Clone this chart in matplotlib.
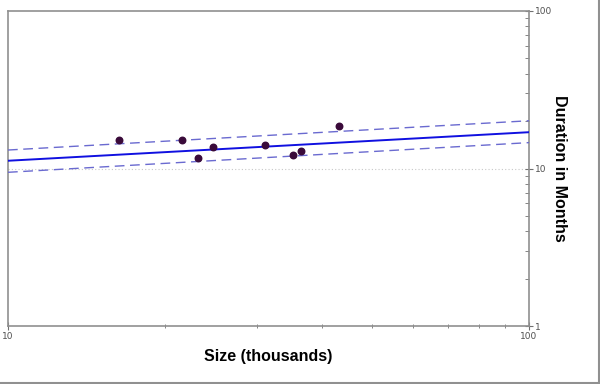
import matplotlib.pyplot as plt
from matplotlib.ticker import LogLocator, FixedLocator, NullFormatter
from matplotlib.lines import Line2D

# data
size_k = [16.3, 21.6, 23.2, 24.7, 31.1, 35.2, 36.5, 43.2]
duration = [15.2, 15.2, 11.7, 13.6, 14.0, 12.2, 13.0, 18.7]

fit_x = [10, 100]
fit_y = [11.2, 17.0]
upper_y = [13.1, 20.1]
lower_y = [9.46, 14.6]

x_ticks = [10, 100]
y_ticks = [1, 10, 100]


def main():
    fig = plt.figure(figsize=(6, 3.84), dpi=100)
    ax = fig.add_axes([8 / 600, 1 - 326 / 384, 521 / 600, 315 / 384])

    ax.set_xscale("log")
    ax.set_yscale("log")
    ax.set_xlim(10, 100)
    ax.set_ylim(1, 100)

    ax.axhline(10, color="#c8c8c8", lw=0.8, ls=(0, (1, 2)), zorder=1)

    ax.plot(fit_x, fit_y, color="#1010e0", lw=1.4, zorder=3)
    ax.plot(fit_x, upper_y, color="#6a6ad0", lw=1.0, ls=(0, (7, 4)), zorder=3)
    ax.plot(fit_x, lower_y, color="#6a6ad0", lw=1.0, ls=(0, (7, 4)), zorder=3)
    ax.scatter(size_k, duration, s=22, color="#3a0a3a", zorder=4)

    for side in ["left", "right", "top", "bottom"]:
        ax.spines[side].set_color("#909090")
        ax.spines[side].set_linewidth(1.2)

    ax.yaxis.tick_right()
    ax.yaxis.set_label_position("right")
    ax.yaxis.set_major_locator(FixedLocator(y_ticks))
    ax.set_yticklabels([str(t) for t in y_ticks])
    ax.yaxis.set_minor_locator(LogLocator(base=10, subs=range(2, 10)))
    ax.yaxis.set_minor_formatter(NullFormatter())
    ax.xaxis.set_major_locator(FixedLocator(x_ticks))
    ax.set_xticklabels([str(t) for t in x_ticks])
    ax.xaxis.set_minor_locator(LogLocator(base=10, subs=range(2, 10)))
    ax.xaxis.set_minor_formatter(NullFormatter())

    ax.tick_params(axis="y", which="major", direction="inout", length=6,
                   color="#707070", labelsize=6.5, labelcolor="#505050", pad=1)
    ax.tick_params(axis="y", which="minor", direction="in", length=3,
                   color="#707070")
    ax.tick_params(axis="x", which="major", direction="inout", length=6,
                   color="#707070", labelsize=6.5, labelcolor="#505050", pad=1)
    ax.tick_params(axis="x", which="minor", direction="inout", length=3,
                   color="#707070")

    ax.set_xlabel("Size (thousands)", fontsize=11.5, fontweight="bold",
                  family="Liberation Sans", labelpad=6)
    ax.set_ylabel("Duration in Months", fontsize=11.5, fontweight="bold",
                  family="Liberation Sans", rotation=-90, labelpad=11)

    # gray edge on right and bottom of the image
    fig.add_artist(Line2D([0, 1], [0.002, 0.002], color="#909090", lw=1.5,
                          transform=fig.transFigure))
    fig.add_artist(Line2D([0.998, 0.998], [0, 1], color="#909090", lw=1.5,
                          transform=fig.transFigure))

    fig.savefig("out.png", dpi=100)


if __name__ == "__main__":
    main()
